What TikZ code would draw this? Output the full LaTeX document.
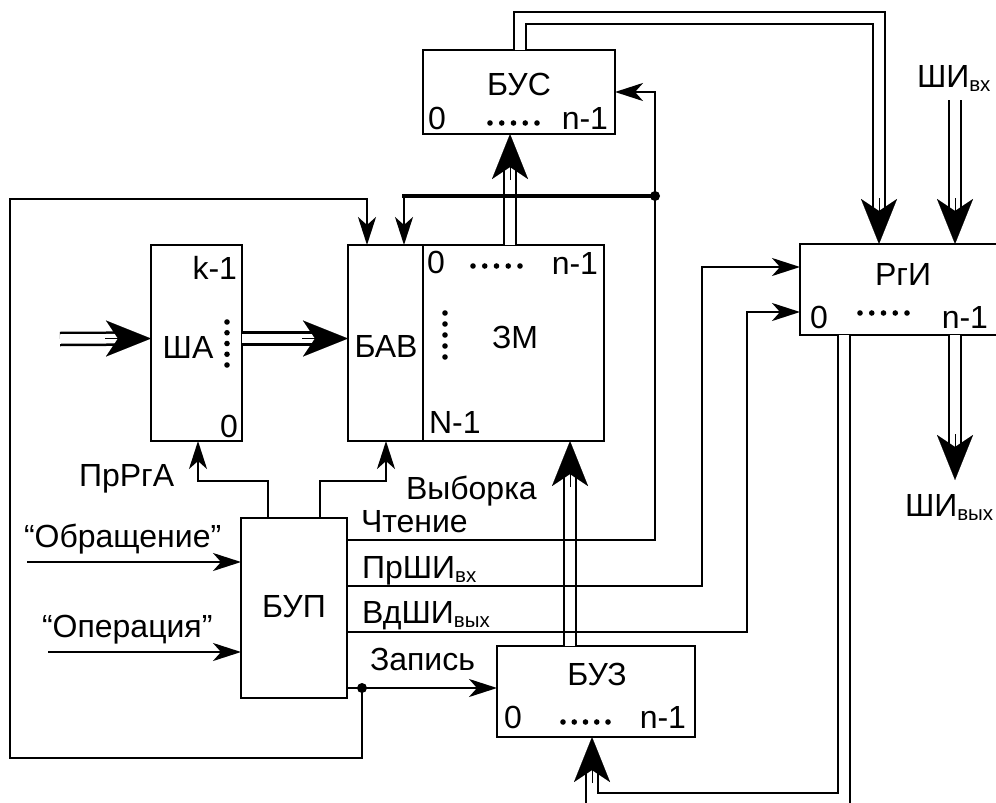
\documentclass[tikz,border=0pt]{standalone}
\usepackage{fontspec}
\setmainfont{Liberation Sans}
\usetikzlibrary{arrows.meta,calc}
\newcommand{\mainsz}{\fontsize{32}{37}\selectfont}
\newcommand{\sbs}[1]{\raisebox{-4pt}{\fontsize{20.5}{21}\selectfont #1}}
\tikzset{
  box/.style={draw, line width=2.5pt, inner sep=0pt, outer sep=0pt, anchor=north west},
  lbl/.style={inner sep=0pt, outer sep=0pt, font=\mainsz},
  wire/.style={line width=2.5pt, line join=miter},
  thickwire/.style={line width=4pt, line cap=rect},
  tip/.style={-{Stealth[length=28pt,width=18pt,inset=8pt]}},
  bigtip/.style={line width=0.1pt, -{Stealth[length=45pt,width=36pt,inset=12pt]}},
  bus/.style={line width=2.5pt, double=white, double distance=9.5pt, line join=miter},
  busend/.style={bus, shorten >=34pt},
  dotc/.style={fill=black},
}
\begin{document}
\begin{tikzpicture}[x=1pt,y=-1pt]
\useasboundingbox (0,0) rectangle (996,803);
\clip (0,0) rectangle (996,803);

% ---------- boxes ----------
\node[box, minimum width=192pt, minimum height=84pt]  (bus) at (423,50) {};
\node[box, minimum width=91pt,  minimum height=196pt] (sha) at (151,245) {};
\node[box, minimum width=75pt,  minimum height=196pt] (bav) at (348,245) {};
\node[box, minimum width=181pt, minimum height=196pt] (zm)  at (423,245) {};
\node[box, minimum width=230pt, minimum height=91pt]  (rgi) at (800,244) {};
\node[box, minimum width=106pt, minimum height=180pt] (bup) at (241,518) {};
\node[box, minimum width=198pt, minimum height=91pt]  (buz) at (497,646) {};

% ---------- helper coordinates ----------
\coordinate (j1) at (655,196);
\coordinate (j2) at (362,688);
\coordinate (topc) at (700,18);
\coordinate (botc) at (718,799);
\coordinate (shaIn) at (60,339);
\coordinate (shivhTop) at (955,100);
\coordinate (shivyhEnd) at (955,480);
\coordinate (obrStart) at (27,562);
\coordinate (operStart) at (48,652);
\coordinate (loopBL) at (10,758);
\coordinate (loopTL) at (367,199);
\coordinate (chtC) at (655,92);
\coordinate (prC) at (702,267);
\coordinate (vdC) at (747,312);
\coordinate (prrgaC) at (198,481);
\coordinate (vybC) at (386,481);
\coordinate (thkEnd) at (404,196);

% bus tip points
\coordinate (tRgiTop)  at ($(rgi.north west)+(79,0)$);
\coordinate (tRgiIn)   at ($(rgi.north west)+(155,0)$);
\coordinate (tBusBot)  at ($(bus.south west)+(87,0)$);
\coordinate (tShaW)    at ($(sha.west)+(0,-4.5)$);
\coordinate (tBavW)    at ($(bav.west)+(0,-4.5)$);
\coordinate (tZmBot)   at ($(zm.south west)+(147,0)$);
\coordinate (tBuzBot)  at ($(buz.south west)+(95,0)$);

% ---------- buses (double lines) ----------
\draw[busend] ($(bus.north west)+(97,0)$) |- (topc) -| (tRgiTop);
\draw[busend] (shivhTop) -- (tRgiIn);
\draw[busend] ($(zm.north west)+(87,0)$) -- (tBusBot);
\draw[busend] (shaIn) -- (tShaW);
\draw[busend] ($(sha.east)+(0,-4.5)$) -- (tBavW);
\draw[busend] ($(buz.north west)+(73,0)$) -- (tZmBot);
\draw[busend] ($(rgi.south west)+(44,0)$) |- (botc) -| (tBuzBot);
\draw[busend] ($(rgi.south west)+(155,0)$) -- (shivyhEnd);

% bus arrow heads
\draw[bigtip] ($(tRgiTop)+(0,-46)$) -- (tRgiTop);
\draw[bigtip] ($(tRgiIn)+(0,-46)$) -- (tRgiIn);
\draw[bigtip] ($(tBusBot)+(0,46)$) -- (tBusBot);
\draw[bigtip] ($(tShaW)+(-46,0)$) -- (tShaW);
\draw[bigtip] ($(tBavW)+(-46,0)$) -- (tBavW);
\draw[bigtip] ($(tZmBot)+(0,46)$) -- (tZmBot);
\draw[bigtip] ($(tBuzBot)+(0,46)$) -- (tBuzBot);
\draw[bigtip] ($(shivyhEnd)+(0,-46)$) -- (shivyhEnd);

% ---------- single wires ----------
\draw[wire,tip] ($(bup.north east)+(0,22)$) -| (chtC) -- (bus.east);
\draw[thickwire] (j1) -- (thkEnd);
\draw[wire,tip] (thkEnd) -- ($(bav.north west)+(56,0)$);
\draw[wire,tip] (j2) |- (loopBL) |- (loopTL) -- ($(bav.north west)+(19,0)$);
\draw[wire,tip] ($(bup.north east)+(0,170)$) -- ($(buz.north west)+(0,42)$);
\draw[wire,tip] ($(bup.north east)+(0,68)$) -| (prC) -- ($(rgi.north west)+(0,23)$);
\draw[wire,tip] ($(bup.north east)+(0,114)$) -| (vdC) -- ($(rgi.north west)+(0,68)$);
\draw[wire,tip] ($(bup.north west)+(27,0)$) |- (prrgaC) -- ($(sha.south west)+(47,0)$);
\draw[wire,tip] ($(bup.north west)+(79,0)$) |- (vybC) -- ($(bav.south west)+(38,0)$);
\draw[wire,tip] (obrStart) -- ($(bup.north west)+(0,44)$);
\draw[wire,tip] (operStart) -- ($(bup.north west)+(0,134)$);

\fill[dotc] (j1) circle (5pt);
\fill[dotc] (j2) circle (5pt);

% ---------- box texts ----------
\node[lbl, anchor=base] (tBUS) at (519,95) {БУС};
\node[lbl, anchor=base west] (tBUS0) at (428,129) {0};
\node[lbl, anchor=base east] (tBUSn) at (608,129) {n-1};
\foreach \i in {0,...,4} \fill (490+11.75*\i,123) circle (2.8pt);

\node[lbl, anchor=base west] (tZM0) at (427,273) {0};
\node[lbl, anchor=base east] (tZMn) at (598,274) {n-1};
\foreach \i in {0,...,4} \fill (473+11.75*\i,266) circle (2.8pt);
\foreach \i in {0,...,4} \fill (445,313+11*\i) circle (2.8pt);
\node[lbl, anchor=base] (tZM) at (515,348) {ЗМ};
\node[lbl, anchor=base west] (tZMN) at (429,433) {N-1};
\node[lbl, anchor=base] (tBAV) at (386,357) {БАВ};

\node[lbl, anchor=base east] (tSHAk) at (237,279) {k-1};
\node[lbl, anchor=base] (tSHA) at (188,358) {ША};
\foreach \i in {0,...,4} \fill (227,322+10.75*\i) circle (2.8pt);
\node[lbl, anchor=base east] (tSHA0) at (238,437) {0};

\node[lbl, anchor=base] (tRGI) at (903,285) {РгИ};
\node[lbl, anchor=base west] (tRGI0) at (810,328) {0};
\foreach \i in {0,...,4} \fill (860+11.75*\i,313) circle (2.8pt);
\node[lbl, anchor=base east] (tRGIn) at (988,328) {n-1};

\node[lbl, anchor=base] (tBUZ) at (597,685) {БУЗ};
\node[lbl, anchor=base west] (tBUZ0) at (504,728) {0};
\foreach \i in {0,...,4} \fill (563+11.25*\i,722) circle (2.8pt);
\node[lbl, anchor=base east] (tBUZn) at (686,728) {n-1};

\node[lbl, anchor=base] (tBUP) at (294,617) {БУП};

% ---------- outside labels ----------
\node[lbl, anchor=base west] (lCht) at (361,532) {Чтение};
\node[lbl, anchor=base west] (lPr) at (362,578) {ПрШИ\sbs{вх}};
\node[lbl, anchor=base west] (lVd) at (362,623) {ВдШИ\sbs{вых}};
\node[lbl, anchor=base west] (lZap) at (370,670) {Запись};
\node[lbl, anchor=base west] (lVyb) at (406,499) {Выборка};
\node[lbl, anchor=base west] (lPrRgA) at (79,486) {ПрРгА};
\node[lbl, anchor=base west] (lObr) at (24,547) {“Обращение”};
\node[lbl, anchor=base west] (lOper) at (42,637) {“Операция”};
\node[lbl, anchor=base west] (lShIvh) at (917,87) {ШИ\sbs{вх}};
\node[lbl, anchor=base west] (lShIvyh) at (905,516) {ШИ\sbs{вых}};
\end{tikzpicture}
\end{document}
